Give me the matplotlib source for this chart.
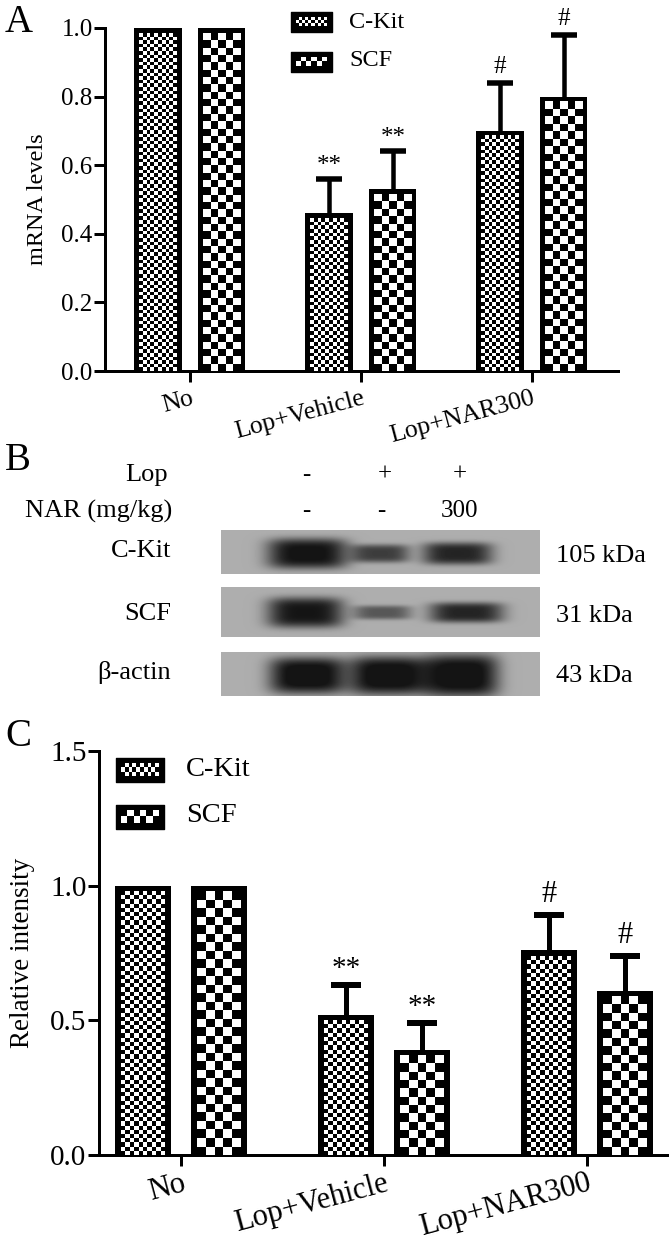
import numpy as np
import matplotlib
matplotlib.use('Agg')
import matplotlib.pyplot as plt

plt.rcParams['font.family'] = ['Liberation Serif', 'DejaVu Serif']

W, H = 670, 1241

# chart values
groups = ['No', 'Lop+Vehicle', 'Lop+NAR300']
mrna_kit = [1.0, 0.46, 0.70]
mrna_scf = [1.0, 0.53, 0.80]
mrna_kit_top = [1.0, 0.56, 0.84]
mrna_scf_top = [1.0, 0.64, 0.98]
marks = ['', '**', '#']
mrna_ticks = [0.0, 0.2, 0.4, 0.6, 0.8, 1.0]

rel_kit = [1.0, 0.52, 0.76]
rel_scf = [1.0, 0.39, 0.61]
rel_kit_top = [1.0, 0.63, 0.89]
rel_scf_top = [1.0, 0.49, 0.74]
rel_ticks = [0.0, 0.5, 1.0, 1.5]

# blot bands: lane centre x, half width, half height, darkness
kit_bands = [(307, 40, 15, 0.62), (380, 29, 9, 0.44), (457, 35, 11, 0.54)]
scf_bands = [(305, 38, 15, 0.60), (382, 29, 7, 0.34), (466, 37, 10, 0.54)]
actin_bands = [(307, 38, 18, 0.66), (388, 39, 19, 0.66), (461, 37, 21, 0.66)]


def px(v):
    return v * 72 / 100


def checker(ax, x0, x1, y0, y1, cell):
    # checkerboard drawn as an image so the squares stay crisp
    a = ax.transData.transform((x0, y0))
    b = ax.transData.transform((x1, y1))
    nx = max(int(round(abs(b[0] - a[0]) / cell)), 1)
    ny = max(int(round(abs(b[1] - a[1]) / cell)), 1)
    board = np.indices((ny, nx)).sum(axis=0) % 2
    ax.imshow(board, extent=(x0, x1, y0, y1), origin='lower', cmap='gray', vmin=0, vmax=1,
              aspect='auto', interpolation='nearest', zorder=3)


def panel(rect, xlim, ylim, ticks, kit, scf, kit_top, scf_top, conf):
    left, top, right, bottom = rect
    ax = fig.add_axes([left / W, 1 - bottom / H, (right - left) / W, (bottom - top) / H])
    ax.set_xlim(*xlim)
    ax.set_ylim(*ylim)
    ax.patch.set_alpha(0)
    x = np.arange(len(groups))
    off, width = 0.187, 0.275
    to_x = (xlim[1] - xlim[0]) / (right - left)
    to_y = (ylim[1] - ylim[0]) / (bottom - top)
    border = conf['border']
    for vals, tops, sign, cell in [(kit, kit_top, -1, conf['fine']), (scf, scf_top, 1, conf['coarse'])]:
        pos = x + sign * off
        ax.bar(pos, vals, width, color='black', zorder=2)
        for p, v in zip(pos, vals):
            checker(ax, p - width / 2 + border * to_x, p + width / 2 - border * to_x,
                    0, v - border * to_y, cell)
        up = np.array(tops) - np.array(vals)
        has = up > 0
        _, caps, _ = ax.errorbar(pos[has], np.array(vals)[has], yerr=[0 * up[has], up[has]], fmt='none',
                                 ecolor='black', elinewidth=px(conf['stem']), capsize=px(conf['cap']),
                                 capthick=px(conf['stem'] + 1), zorder=1)
        caps[0].set_visible(False)
    for spine in ['top', 'right']:
        ax.spines[spine].set_visible(False)
    for spine in ['left', 'bottom']:
        ax.spines[spine].set_linewidth(px(conf['axis']))
        ax.spines[spine].set_capstyle('projecting')
    ax.set_yticks(ticks)
    ax.set_yticklabels(['%.1f' % t for t in ticks], fontsize=conf['tick'])
    ax.set_xticks(x)
    ax.set_xticklabels(groups, fontsize=conf['label'], rotation=15, ha='right', rotation_mode='anchor')
    ax.tick_params(axis='both', width=px(conf['axis']), length=px(11), pad=1)
    ax.tick_params(axis='x', pad=conf['xpad'])
    return ax, x, off


def sig(ax, x, top, mark, dy_star, dy_hash, size_star, size_hash):
    dy = dy_star if mark == '**' else dy_hash
    size = size_star if mark == '**' else size_hash
    ax.annotate(mark, (x, top), xytext=(0, px(dy)), textcoords='offset points',
                ha='center', va='bottom', fontsize=size, annotation_clip=False)


fig = plt.figure(figsize=(W / 100, H / 100), dpi=100)

# panel A
conf_a = dict(border=5, fine=3.6, coarse=7.4, stem=4.5, cap=13, axis=3, tick=18, label=18.5, xpad=4)
ax_a, xa, off_a = panel((105, 28, 618, 371), (-0.497, 2.503), (0, 1.0), mrna_ticks,
                        mrna_kit, mrna_scf, mrna_kit_top, mrna_scf_top, conf_a)
ax_a.set_ylabel('mRNA levels', fontsize=17.5)
ax_a.yaxis.set_label_coords((48 - 105) / 513, 0.5)
for i in [1, 2]:
    sig(ax_a, xa[i] - off_a, mrna_kit_top[i], marks[i], 2, 5, 18, 18)
    sig(ax_a, xa[i] + off_a, mrna_scf_top[i], marks[i], 2, 5, 18, 18)

# panel C
conf_c = dict(border=6, fine=4.2, coarse=8.4, stem=5, cap=15, axis=3, tick=21, label=22, xpad=2)
ax_c, xc, off_c = panel((99, 751, 667, 1155), (-0.404, 2.394), (0, 1.5), rel_ticks,
                        rel_kit, rel_scf, rel_kit_top, rel_scf_top, conf_c)
ax_c.set_ylabel('Relative intensity', fontsize=19.5)
ax_c.yaxis.set_label_coords((35 - 99) / 568, 0.5)
for i in [1, 2]:
    sig(ax_c, xc[i] - off_c, rel_kit_top[i], marks[i], 3, 6, 21, 22)
    sig(ax_c, xc[i] + off_c, rel_scf_top[i], marks[i], 3, 6, 21, 22)

# overlay in pixel coordinates for legends, blot and panel letters
ov = fig.add_axes([0, 0, 1, 1], zorder=5)
ov.set_xlim(0, W)
ov.set_ylim(H, 0)
ov.axis('off')
ov.patch.set_alpha(0)


def legend_box(x0, x1, y0, y1, cell):
    ov.add_patch(plt.Rectangle((x0, y0), x1 - x0, y1 - y0, facecolor='black', edgecolor='black',
                               joinstyle='round', lw=1, zorder=2))
    checker(ov, x0 + 5, x1 - 5, y0 + 5, y1 - 6, cell)


legend_box(291, 332, 12, 32, 3)
legend_box(291, 332, 52, 72, 5)
ov.text(349, 22, 'C-Kit', fontsize=17.5, va='center')
ov.text(349, 61, 'SCF', fontsize=17.5, va='center')

legend_box(116, 164, 758, 782, 4)
legend_box(116, 164, 805, 829, 6.5)
ov.text(186, 769, 'C-Kit', fontsize=20.5, va='center')
ov.text(186, 816, 'SCF', fontsize=20.5, va='center')

ov.text(5, 22, 'A', fontsize=28, va='center')
ov.text(5, 461, 'B', fontsize=28, va='center')
ov.text(5, 737, 'C', fontsize=28, va='center')


def blot(y0, y1, yc, bands):
    xs = np.arange(221, 540)
    ys = np.arange(y0, y1)
    gx, gy = np.meshgrid(xs, ys)
    img = np.full(gx.shape, 0.68)
    for cx, hw, hh, dark in bands:
        img -= dark * np.exp(-np.abs((gx - cx) / hw) ** 4 - np.abs((gy - yc) / hh) ** 4)
    ov.imshow(np.clip(img, 0.08, 1), extent=(221, 540, y1, y0), cmap='gray', vmin=0, vmax=1,
              aspect='auto', interpolation='bilinear', zorder=1)


blot(530, 574, 553, kit_bands)
blot(587, 637, 612, scf_bands)
blot(652, 696, 675, actin_bands)

for label, y in [('C-Kit', 551), ('SCF', 614), (u'\u03b2-actin', 672)]:
    ov.text(171, y, label, fontsize=19, ha='right', va='center')
ov.text(168, 475, 'Lop', fontsize=19, ha='right', va='center')
ov.text(172, 511, 'NAR (mg/kg)', fontsize=19, ha='right', va='center')
for x, s in [(306, '-'), (385, '+'), (460, '+')]:
    ov.text(x, 475, s, fontsize=18, ha='center', va='center')
for x, s in [(306, '-'), (381, '-'), (459, '300')]:
    ov.text(x, 511, s, fontsize=18, ha='center', va='center')
for y, s in [(556, '105 kDa'), (616, '31 kDa'), (676, '43 kDa')]:
    ov.text(556, y, s, fontsize=19, va='center')

fig.savefig('out.png', dpi=100)
